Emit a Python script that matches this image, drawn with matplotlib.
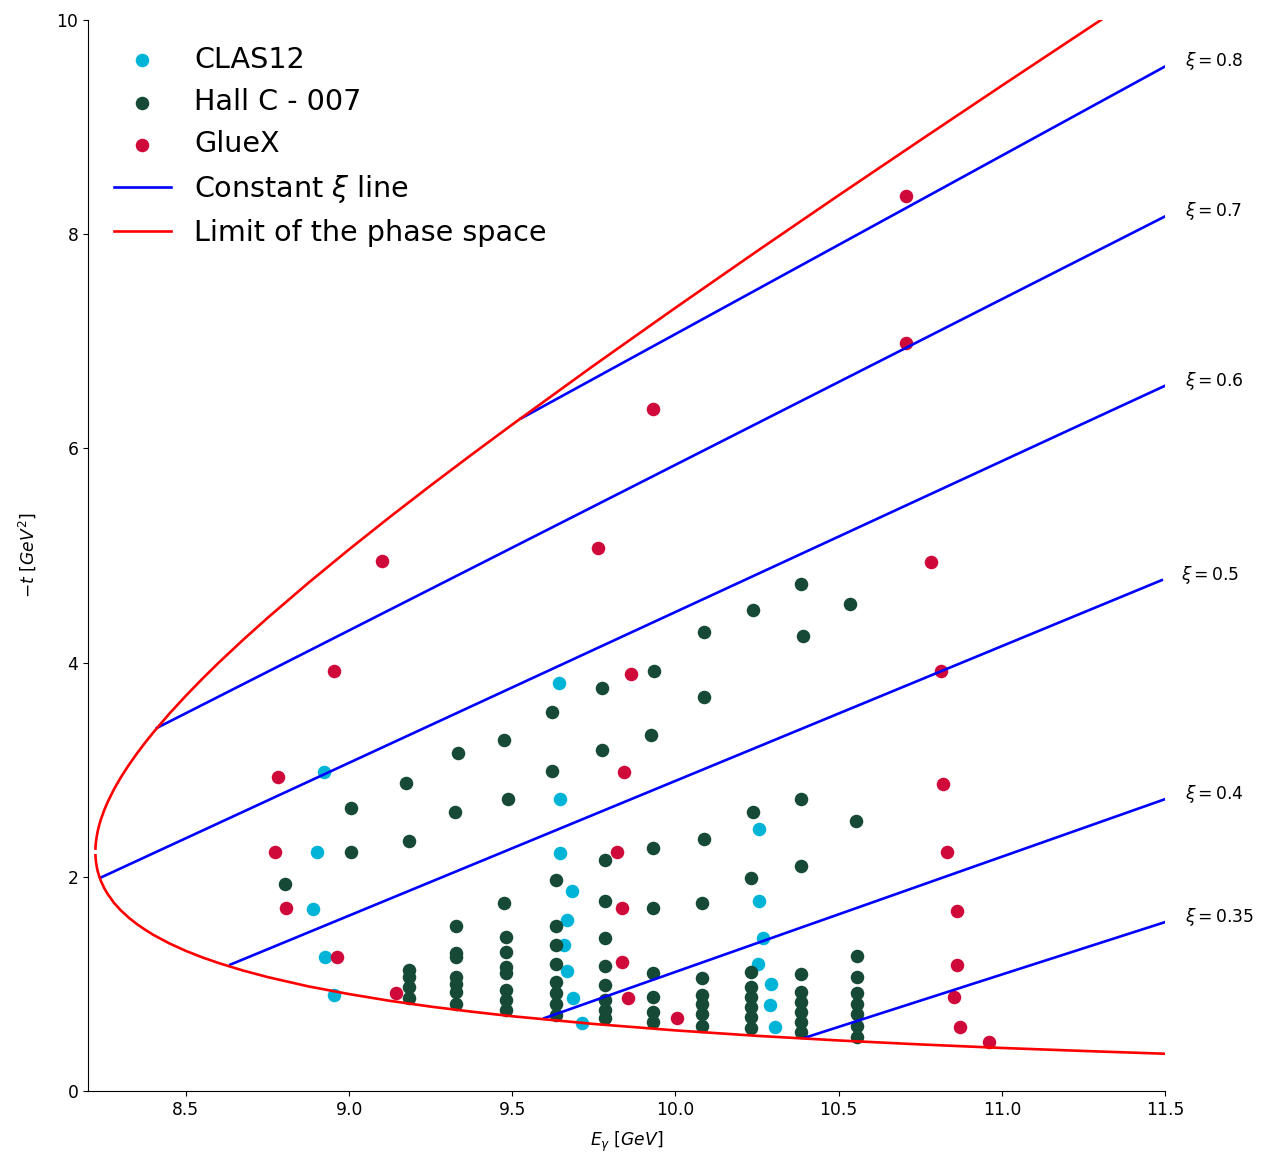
import matplotlib
matplotlib.use("Agg")
import matplotlib.pyplot as plt

# ---------------- data ----------------
clas12_E = [9.644, 9.647, 8.922, 8.901, 8.888, 8.925, 8.953, 9.647, 9.683, 9.668,
            9.659, 9.668, 9.687, 9.714, 10.255, 10.255, 10.268, 10.252, 10.292,
            10.289, 10.304]
clas12_t = [3.81, 2.73, 2.98, 2.23, 1.70, 1.25, 0.90, 2.22, 1.87, 1.60,
            1.36, 1.12, 0.87, 0.635, 2.45, 1.77, 1.43, 1.19, 1.00,
            0.80, 0.60]

hallc_E = [10.384, 10.534, 10.236, 10.086, 10.391, 9.933, 9.775, 10.086, 9.622, 9.925,
           9.474, 9.775, 9.334, 9.622, 9.175, 9.487, 10.384, 9.006, 9.324, 10.236,
           10.554, 10.086, 9.184, 9.931, 9.006, 9.784, 10.384, 10.231, 9.635, 8.804,
           9.784, 10.080, 9.474, 9.931,
           9.184, 9.184, 9.184, 9.184,
           9.329, 9.329, 9.329, 9.329, 9.329, 9.329, 9.329,
           9.480, 9.480, 9.480, 9.480, 9.480, 9.480, 9.480,
           9.635, 9.635, 9.635, 9.635, 9.635, 9.635, 9.635,
           9.784, 9.784, 9.784, 9.784, 9.784, 9.784,
           9.931, 9.931, 9.931, 9.931,
           10.080, 10.080, 10.080, 10.080, 10.080,
           10.231, 10.231, 10.231, 10.231, 10.231, 10.231,
           10.384, 10.384, 10.384, 10.384, 10.384, 10.384,
           10.555, 10.555, 10.555, 10.555, 10.555, 10.555, 10.555]
hallc_t = [4.738, 4.545, 4.489, 4.284, 4.246, 3.920, 3.764, 3.675, 3.540, 3.322,
           3.280, 3.183, 3.157, 2.987, 2.872, 2.725, 2.725, 2.638, 2.607, 2.607,
           2.520, 2.352, 2.336, 2.270, 2.228, 2.156, 2.103, 1.985, 1.969, 1.932,
           1.776, 1.752, 1.752, 1.710,
           1.13, 1.06, 0.97, 0.87,
           1.54, 1.29, 1.25, 1.06, 1.00, 0.92, 0.81,
           1.44, 1.295, 1.16, 1.10, 0.94, 0.85, 0.76,
           1.54, 1.363, 1.185, 1.014, 0.912, 0.809, 0.709,
           1.425, 1.169, 0.989, 0.849, 0.756, 0.679,
           1.104, 0.881, 0.735, 0.647,
           1.052, 0.896, 0.809, 0.716, 0.609,
           1.113, 0.974, 0.880, 0.787, 0.693, 0.585,
           1.089, 0.927, 0.834, 0.741, 0.641, 0.548,
           1.260, 1.067, 0.912, 0.809, 0.716, 0.607, 0.507]

gluex_E = [10.705, 10.705, 9.931, 9.763, 9.102, 10.784, 8.953, 9.864, 10.815, 8.781,
           9.843, 10.821, 8.772, 9.821, 10.833, 8.806, 9.836, 10.864, 8.962, 9.836,
           10.864, 9.145, 9.855, 10.852, 10.005, 10.873, 10.962]
gluex_t = [8.36, 6.98, 6.365, 5.07, 4.95, 4.94, 3.92, 3.89, 3.92, 2.93,
           2.98, 2.87, 2.23, 2.23, 2.23, 1.71, 1.71, 1.68, 1.25, 1.20,
           1.18, 0.915, 0.87, 0.88, 0.68, 0.60, 0.46]

# phase-space limit (two branches)
limit_E = [8.2228, 8.2235, 8.2245, 8.227, 8.23, 8.235, 8.24, 8.25, 8.26, 8.28,
           8.30, 8.325, 8.35, 8.375, 8.40, 8.45, 8.50, 8.55, 8.60, 8.675, 8.75,
           8.875, 9.00, 9.125, 9.25, 9.375, 9.50, 9.75, 10.00, 10.25, 10.50,
           10.75, 11.00, 11.25, 11.50]
limit_t_low = [2.201, 2.167, 2.138, 2.090, 2.049, 1.998, 1.957, 1.892, 1.840, 1.755,
               1.688, 1.618, 1.558, 1.506, 1.458, 1.377, 1.308, 1.248, 1.195, 1.125, 1.064,
               0.977, 0.905, 0.842, 0.788, 0.741, 0.698, 0.626, 0.566, 0.515, 0.472,
               0.435, 0.402, 0.374, 0.348]
limit_t_high = [2.264, 2.300, 2.331, 2.383, 2.430, 2.491, 2.541, 2.625, 2.697, 2.820,
                2.926, 3.044, 3.152, 3.253, 3.348, 3.526, 3.691, 3.848, 3.998, 4.212, 4.417,
                4.744, 5.057, 5.360, 5.654, 5.941, 6.223, 6.775, 7.313, 7.842, 8.363,
                8.877, 9.387, 9.892, 10.394]

# constant xi lines (end points)
xi_values = ["0.8", "0.7", "0.6", "0.5", "0.4", "0.35"]
xi_E_start = [9.527, 8.411, 8.237, 8.636, 9.598, 10.399]
xi_t_start = [6.28, 3.39, 1.99, 1.18, 0.68, 0.50]
xi_E_end = [11.50, 11.50, 11.50, 11.49, 11.50, 11.50]
xi_t_end = [9.566, 8.166, 6.585, 4.77, 2.725, 1.577]

# ---------------- plot ----------------
fig = plt.figure(figsize=(12.61, 11.55), dpi=100)
ax = fig.add_axes([0.0698, 0.0554, 0.8541, 0.9273])

c_clas = "#00b4d8"
c_hall = "#174a36"
c_glue = "#d0093b"

ax.scatter(clas12_E, clas12_t, s=95, color=c_clas, linewidths=0, label="CLAS12")
ax.scatter(hallc_E, hallc_t, s=95, color=c_hall, linewidths=0, label="Hall C - 007")
ax.scatter(gluex_E, gluex_t, s=95, color=c_glue, linewidths=0, label="GlueX")

for i, xi in enumerate(xi_values):
    ax.plot([xi_E_start[i], xi_E_end[i]], [xi_t_start[i], xi_t_end[i]],
            color="blue", lw=1.9, label=r"Constant $\xi$ line" if i == 0 else None)
    ax.text(xi_E_end[i] + 0.06, xi_t_end[i], r"$\xi=" + xi + "$", fontsize=12.3)

ax.plot(limit_E, limit_t_high, color="red", lw=1.9, label="Limit of the phase space")
ax.plot(limit_E, limit_t_low, color="red", lw=1.9)

ax.set_xlim(8.2, 11.5)
ax.set_ylim(0, 10)
ax.set_xticks([8.5, 9.0, 9.5, 10.0, 10.5, 11.0, 11.5])
ax.set_yticks([0, 2, 4, 6, 8, 10])
ax.tick_params(labelsize=12.3)
ax.spines["top"].set_visible(False)
ax.spines["right"].set_visible(False)
ax.set_xlabel(r"$E_{\gamma}\ [GeV]$", fontsize=12.3, labelpad=8)
ax.set_ylabel(r"$-t\ [GeV^2]$", fontsize=12.3, labelpad=13)

ax.legend(loc="upper left", frameon=False, fontsize=20.6, scatterpoints=1)

fig.savefig("out.png", dpi=100)
